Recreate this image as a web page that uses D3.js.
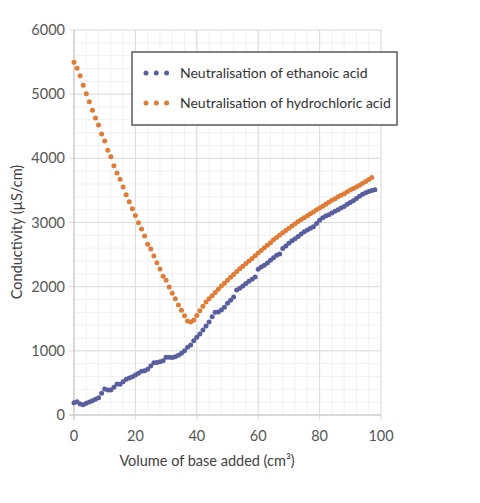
<!DOCTYPE html>
<html lang="en">
<head>
<meta charset="UTF-8"/>
<title>Conductivity titration</title>
<script src="https://d3js.org/d3.v7.min.js"></script>
<style>
  body { margin: 0; background: #fff; }
  text { font-family: Lato, "Noto Sans", sans-serif; }
</style>
</head>
<body>
<script>
// volume of base added (cm3) -> conductivity (uS/cm)
var ethanoic = [192,208,171,161,182,203,223,245,270,338,
                405,390,390,432,483,478,519,556,577,597,
                623,649,681,690,712,764,815,820,831,847,
                899,899,895,909,930,961,1000,1055,1091,1158,
                1210,1262,1325,1387,1450,1530,1600,1605,1636,1678,
                1740,1790,1840,1950,1975,2010,2050,2085,2115,2150,
                2270,2305,2335,2370,2410,2450,2490,2510,2595,2635,
                2675,2715,2745,2780,2820,2855,2885,2910,2935,2985,
                3035,3075,3100,3120,3150,3175,3200,3225,3250,3285,
                3310,3340,3375,3410,3440,3465,3485,3500,3510];

var hydrochloric = [5497,5403,5288,5138,5007,4883,4748,4628,4519,4379,
                    4270,4125,4025,3885,3771,3673,3553,3433,3324,3215,
                    3110,2997,2899,2790,2660,2587,2478,2373,2275,2161,
                    2099,1995,1896,1813,1714,1631,1548,1465,1449,1480,
                    1550,1625,1695,1760,1810,1860,1910,1960,2010,2055,
                    2100,2145,2190,2235,2280,2320,2360,2400,2440,2480,
                    2525,2565,2605,2645,2685,2730,2765,2805,2840,2875,
                    2910,2945,2980,3015,3045,3075,3105,3135,3165,3200,
                    3225,3255,3285,3315,3345,3370,3400,3425,3450,3480,
                    3505,3530,3555,3580,3610,3640,3670,3700];

var seriesNames = ["Neutralisation of ethanoic acid", "Neutralisation of hydrochloric acid"];
var seriesColors = ["#585e9e", "#e07c36"];
var xTicks = [0, 20, 40, 60, 80, 100];
var yTicks = [0, 1000, 2000, 3000, 4000, 5000, 6000];

var w = 480;
var h = 503;

var xScale = d3.scaleLinear()
                .domain([0, 100])
                .range([74, 381]);

var yScale = d3.scaleLinear()
                .domain([0, 6000])
                .range([415, 30]);

var svg = d3.select("body")
            .append("svg")
            .attr("width", w)
            .attr("height", h);

// minor grid
svg.append("g")
    .selectAll("line")
    .data(d3.range(0, 101, 4))
    .enter()
    .append("line")
    .attr("x1", d => xScale(d)).attr("x2", d => xScale(d))
    .attr("y1", yScale(0)).attr("y2", yScale(6000))
    .attr("stroke", "#f1f1f1");

svg.append("g")
    .selectAll("line")
    .data(d3.range(0, 6001, 200))
    .enter()
    .append("line")
    .attr("x1", xScale(0)).attr("x2", xScale(100))
    .attr("y1", d => yScale(d)).attr("y2", d => yScale(d))
    .attr("stroke", "#f1f1f1");

// major grid
svg.append("g")
    .selectAll("line")
    .data(xTicks)
    .enter()
    .append("line")
    .attr("x1", d => xScale(d)).attr("x2", d => xScale(d))
    .attr("y1", yScale(0) + 5).attr("y2", yScale(6000))
    .attr("stroke", "#dcdcdc");

svg.append("g")
    .selectAll("line")
    .data(yTicks)
    .enter()
    .append("line")
    .attr("x1", xScale(0) - 5).attr("x2", xScale(100))
    .attr("y1", d => yScale(d)).attr("y2", d => yScale(d))
    .attr("stroke", "#dcdcdc");

// axis lines
svg.append("line")
    .attr("x1", xScale(0)).attr("x2", xScale(0))
    .attr("y1", yScale(6000)).attr("y2", yScale(0) + 5)
    .attr("stroke", "#c8c8c8");
svg.append("line")
    .attr("x1", xScale(0) - 5).attr("x2", xScale(100))
    .attr("y1", yScale(0)).attr("y2", yScale(0))
    .attr("stroke", "#c8c8c8");

// tick labels
svg.append("g")
    .selectAll("text")
    .data(yTicks)
    .enter()
    .append("text")
    .text(d => d)
    .attr("x", xScale(0) - 9)
    .attr("y", d => yScale(d) + 5)
    .attr("text-anchor", "end")
    .attr("font-size", "14.5px")
    .attr("fill", "#555");

svg.append("g")
    .selectAll("text")
    .data(xTicks)
    .enter()
    .append("text")
    .text(d => d)
    .attr("x", d => xScale(d))
    .attr("y", 441)
    .attr("text-anchor", "middle")
    .attr("font-size", "14.5px")
    .attr("fill", "#555");

// axis titles
svg.append("text")
    .text("Volume of base added (cm³)")
    .attr("x", 207)
    .attr("y", 466)
    .attr("text-anchor", "middle")
    .attr("font-size", "14.5px")
    .attr("fill", "#404040");

svg.append("text")
    .text("Conductivity (µS/cm)")
    .attr("transform", "translate(22,232) rotate(-90)")
    .attr("text-anchor", "middle")
    .attr("font-size", "14.5px")
    .attr("fill", "#404040");

// data points
[ethanoic, hydrochloric].forEach(function(series, i){
    svg.append("g")
        .selectAll("circle")
        .data(series)
        .enter()
        .append("circle")
        .attr("cx", (d, j) => xScale(j))
        .attr("cy", d => yScale(d))
        .attr("r", 2.5)
        .attr("fill", seriesColors[i]);
});

// legend
var legend = svg.append("g");
legend.append("rect")
    .attr("x", 132).attr("y", 52)
    .attr("width", 265).attr("height", 73)
    .attr("fill", "#fff")
    .attr("stroke", "#595959")
    .attr("stroke-width", 1.5);

seriesNames.forEach(function(name, i){
    var y = 73 + i * 30;
    legend.selectAll(".dot" + i)
        .data([0, 1, 2])
        .enter()
        .append("circle")
        .attr("cx", k => 146 + k * 10.3)
        .attr("cy", y)
        .attr("r", 2.5)
        .attr("fill", seriesColors[i]);
    legend.append("text")
        .text(name)
        .attr("x", 180)
        .attr("y", y + 5)
        .attr("font-size", "14px")
        .attr("fill", "#333");
});
</script>
</body>
</html>
